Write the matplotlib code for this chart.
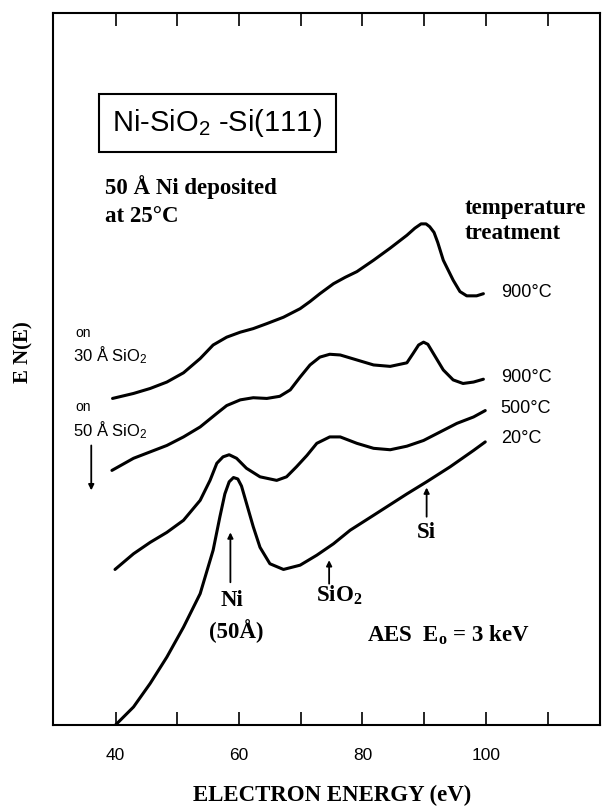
import matplotlib
matplotlib.use('Agg')
import matplotlib.pyplot as plt

plt.rcParams['mathtext.default'] = 'regular'

# energy (eV) and intensity (arbitrary, 0-100)
# top curve: 900C on 30 A SiO2
e_900a = [39.5, 42.9, 45.6, 48.3, 51.0, 53.7, 55.8, 58.0, 60.2, 62.3, 64.5, 67.2, 69.9, 71.5,
          73.1, 75.3, 77.2, 79.1, 81.8, 84.5, 87.2, 88.5, 89.5, 90.3, 90.9, 91.6, 92.2, 93.1,
          94.7, 95.8, 96.9, 98.5, 99.6]
n_900a = [45.9, 46.6, 47.3, 48.2, 49.5, 51.5, 53.4, 54.5, 55.2, 55.7, 56.4, 57.3, 58.5, 59.5,
          60.6, 62.0, 62.9, 63.7, 65.3, 67.0, 68.8, 69.8, 70.4, 70.4, 70.0, 69.2, 67.8, 65.3,
          62.5, 60.9, 60.3, 60.3, 60.6]

# 900C on 50 A SiO2
e_900b = [39.4, 42.9, 45.6, 48.3, 51.0, 53.7, 56.4, 58.0, 60.2, 62.3, 64.5, 66.6, 68.3, 69.9,
          71.5, 73.1, 74.7, 76.4, 79.1, 81.8, 84.5, 87.2, 88.2, 89.1, 89.9, 90.6, 91.5, 93.1,
          94.7, 96.3, 98.0, 99.6]
n_900b = [35.8, 37.5, 38.4, 39.3, 40.5, 41.9, 43.8, 44.9, 45.7, 46.0, 45.9, 46.2, 47.1, 48.9,
          50.6, 51.7, 52.1, 52.0, 51.3, 50.6, 50.4, 50.9, 52.2, 53.4, 53.8, 53.5, 52.2, 49.9,
          48.5, 48.0, 48.2, 48.6]

# 500C
e_500 = [39.9, 42.9, 45.6, 48.3, 51.0, 53.7, 55.3, 56.4, 57.4, 58.4, 59.6, 61.2, 63.4, 66.1,
         67.7, 69.3, 71.0, 72.6, 74.7, 76.4, 79.1, 81.8, 84.5, 87.2, 89.9, 92.6, 95.3, 98.0, 99.9]
n_500 = [21.9, 24.1, 25.7, 27.1, 28.8, 31.6, 34.4, 36.8, 37.7, 38.0, 37.5, 36.1, 34.9, 34.4,
         34.9, 36.3, 37.9, 39.6, 40.5, 40.5, 39.6, 38.9, 38.7, 39.2, 40.0, 41.2, 42.4, 43.3, 44.2]

# 20C
e_20 = [39.9, 42.9, 45.6, 48.3, 51.0, 53.7, 55.8, 56.9, 57.7, 58.4, 59.1, 59.8, 60.4, 61.2,
        62.3, 63.4, 65.0, 67.2, 69.9, 72.6, 75.3, 78.0, 81.8, 87.2, 90.4, 94.2, 98.0, 99.9]
n_20 = [0.0, 2.6, 5.9, 9.6, 13.8, 18.5, 24.6, 29.3, 32.5, 34.2, 34.8, 34.6, 33.6, 31.2,
        27.9, 25.0, 22.7, 21.9, 22.5, 23.9, 25.5, 27.4, 29.5, 32.5, 34.2, 36.3, 38.6, 39.8]

xticks = [40, 50, 60, 70, 80, 90, 100, 110]
xticklabels = ['40', '', '60', '', '80', '', '100', '']

SANS = 'Liberation Sans'
SERIF = 'Liberation Serif'

fig = plt.figure(figsize=(6.07, 8.06), dpi=100)
ax = fig.add_axes([0.0868, 0.0999, 0.9017, 0.884])

for e, n in [(e_900a, n_900a), (e_900b, n_900b), (e_500, n_500), (e_20, n_20)]:
    ax.plot(e, n, color='black', lw=2.2, solid_joinstyle='round', solid_capstyle='round')

ax.set_xlim(29.8, 118.5)
ax.set_ylim(0, 100)
ax.set_xticks(xticks)
ax.set_xticklabels(xticklabels)
ax.set_yticks([])
ax.tick_params(axis='x', direction='in', top=True, bottom=True, length=9.5, width=1.2,
               pad=16, labelsize=12.5)
for lab in ax.get_xticklabels():
    lab.set_fontfamily(SANS)
for sp in ax.spines.values():
    sp.set_linewidth(1.5)

# title box
ax.text(56.5, 84.6, 'Ni-SiO$_2$ -Si(111)', family=SANS, fontsize=21, ha='center', va='center',
        bbox=dict(boxstyle='square,pad=0.45', fc='white', ec='black', lw=1.5))

bold = dict(family=SERIF, fontweight='bold', fontsize=16.5)
ax.text(38.3, 75.6, '50 Å Ni deposited', ha='left', va='center', **bold)
ax.text(38.3, 71.5, 'at 25°C', ha='left', va='center', **bold)
ax.text(96.6, 72.5, 'temperature', ha='left', va='center', **bold)
ax.text(96.6, 69.1, 'treatment', ha='left', va='center', **bold)

# temperature labels
for lbl, v in [('900°C', 60.7), ('900°C', 48.9), ('500°C', 44.5), ('20°C', 40.3)]:
    ax.text(102.4, v, lbl, family=SANS, fontsize=13, ha='left', va='center')

# substrate labels on the left
ax.text(33.4, 55.1, 'on', family=SANS, fontsize=10, ha='left', va='center')
ax.text(33.1, 52.0, '30 Å SiO$_2$', family=SANS, fontsize=12, ha='left', va='center')
ax.text(33.4, 44.7, 'on', family=SANS, fontsize=10, ha='left', va='center')
ax.text(33.1, 41.4, '50 Å SiO$_2$', family=SANS, fontsize=12, ha='left', va='center')

arrow = dict(arrowstyle='-|>', color='black', lw=1.3, mutation_scale=8, shrinkA=0, shrinkB=0)
ax.annotate('', xy=(36.05, 33.0), xytext=(36.05, 39.3), arrowprops=arrow)

# peak markers
ax.annotate('', xy=(58.6, 27.1), xytext=(58.6, 20.1), arrowprops=arrow)
ax.text(58.9, 17.6, 'Ni', ha='center', va='center', **bold)
ax.text(59.5, 13.3, '(50Å)', ha='center', va='center', **bold)

ax.annotate('', xy=(74.6, 23.2), xytext=(74.6, 19.9), arrowprops=arrow)
ax.text(72.5, 18.3, 'SiO$_2$', ha='left', va='center', **bold)

ax.annotate('', xy=(90.4, 33.4), xytext=(90.4, 29.3), arrowprops=arrow)
ax.text(90.4, 27.1, 'Si', ha='center', va='center', **bold)

ax.text(80.7, 12.6, 'AES  E$_o$ = 3 keV', ha='left', va='center', **bold)

fig.text(0.547, 0.0136, 'ELECTRON ENERGY (eV)', ha='center', va='center',
         family=SERIF, fontweight='bold', fontsize=16.5)
fig.text(0.038, 0.563, 'E N(E)', ha='center', va='center', rotation=90,
         family=SERIF, fontweight='bold', fontsize=15)

fig.savefig('out.png', dpi=100)
